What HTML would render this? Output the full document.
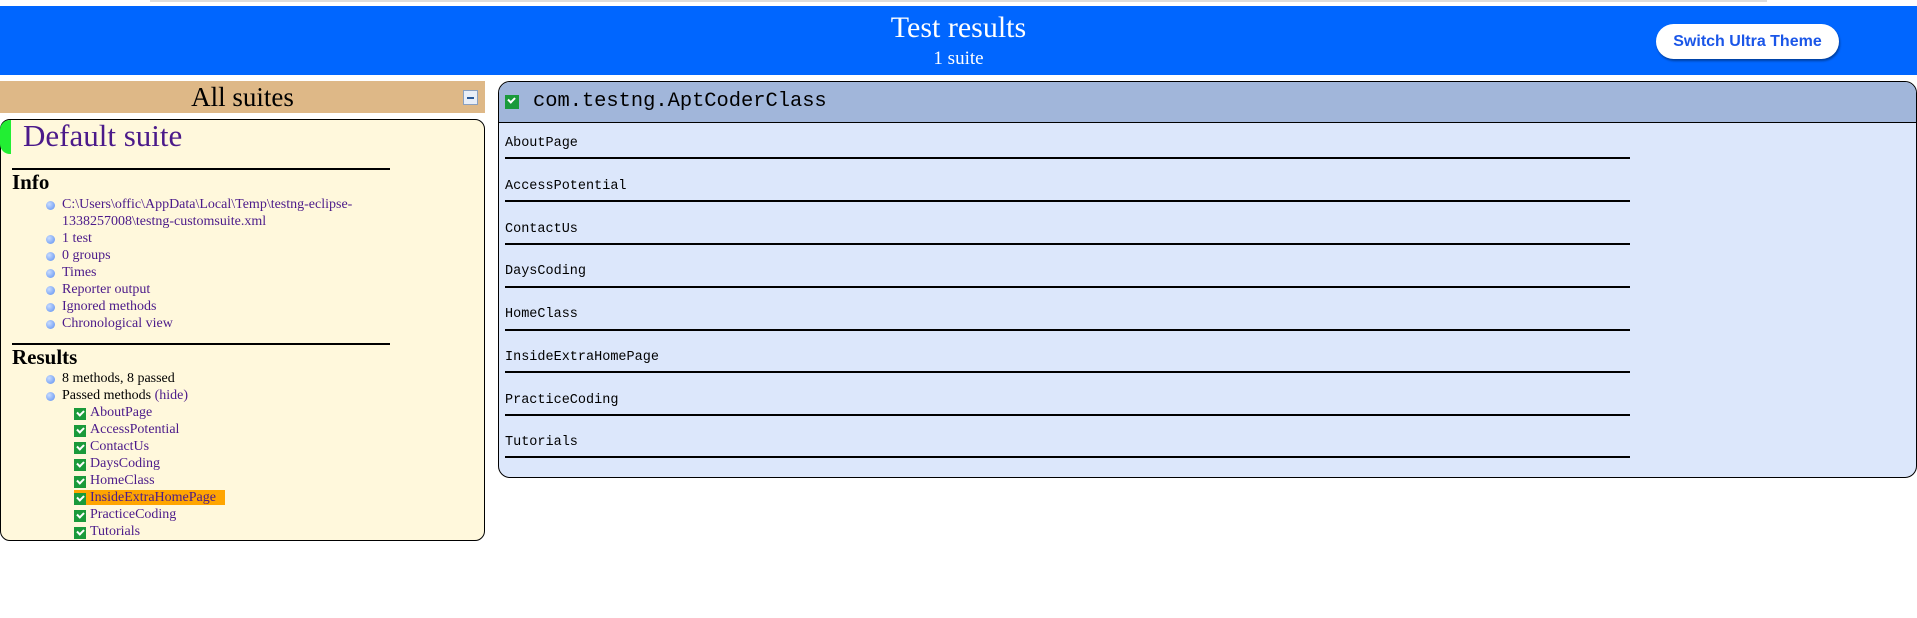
<!DOCTYPE html>
<html><head><meta charset="utf-8"><style>
*{margin:0;padding:0;box-sizing:border-box}
body{width:1917px;height:618px;background:#fff;position:relative;overflow:hidden;font-family:"Liberation Serif",serif}
.a{position:absolute;white-space:nowrap}
.blue{background:#0066ff;left:0;top:6px;width:1917px;height:69px}
.btn{left:1656px;top:24px;width:183px;height:35px;background:#fff;border-radius:18px;box-shadow:1px 2px 2px #0040a0;font:bold 16px "Liberation Sans",sans-serif;color:#1a56e8;text-align:center;line-height:35px}
.lnk{color:#4b1a8a;font-size:14px}
.bul{position:absolute;width:9px;height:9px;border-radius:50%;background:radial-gradient(circle at 35% 35%,#c8dcff,#5b8ef0)}
.chk{position:absolute;width:12px;height:12px;background:#1a9a3a}
.chk:after{content:"";position:absolute;left:3px;top:2px;width:5px;height:3px;border-left:2px solid #fff;border-bottom:2px solid #fff;transform:rotate(-45deg)}
.mono{font-family:"Liberation Mono","DejaVu Sans Mono",monospace}
.row{left:505px;font-size:13.5px;color:#000}
.sep{left:505px;width:1125px;height:1.5px;background:#000}
</style></head><body>
<div class="a" style="left:150px;top:0;width:1617px;height:2px;background:#ddd"></div>
<div class="a blue"></div>
<div class="a" style="left:0;width:1917px;top:10px;text-align:center;color:#fff;font-size:30px;line-height:36px">Test results</div>
<div class="a" style="left:0;width:1917px;top:48px;text-align:center;color:#fff;font-size:19px;line-height:22px">1 suite</div>
<div class="a btn">Switch Ultra Theme</div>

<div class="a" style="left:0;top:81px;width:485px;height:32px;background:#deb887;text-align:center;font-size:27px;line-height:32px">All suites</div>
<div class="a" style="left:463px;top:90px;width:15px;height:15px;border:1px solid #8aa0c0;background:#e8eef8"><div style="position:absolute;left:3px;top:6px;width:7px;height:2px;background:#2a5a9a"></div></div>

<div class="a" style="left:0;top:119px;width:485px;height:422px;background:#fff8dc;border:1px solid #000;border-radius:10px"></div>
<div class="a" style="left:0;top:120px;width:11px;height:34px;background:#22ee33;border-radius:10px 0 0 10px"></div>
<div class="a" style="left:23px;top:118px;font-size:31px;line-height:36px;color:#4b1a8a">Default suite</div>
<div class="a" style="left:12px;top:168px;width:378px;height:1.5px;background:#000"></div>
<div class="a" style="left:12px;top:170px;font-size:21px;font-weight:bold;line-height:24px">Info</div>
<div class="bul" style="left:46px;top:201px"></div><div class="a lnk" style="left:62px;top:196px;line-height:17px">C:\Users\offic\AppData\Local\Temp\testng-eclipse-<br>1338257008\testng-customsuite.xml</div>
<div class="bul" style="left:46px;top:235px"></div><div class="a lnk" style="left:62px;top:230px;line-height:17px">1 test</div>
<div class="bul" style="left:46px;top:252px"></div><div class="a lnk" style="left:62px;top:247px;line-height:17px">0 groups</div>
<div class="bul" style="left:46px;top:269px"></div><div class="a lnk" style="left:62px;top:264px;line-height:17px">Times</div>
<div class="bul" style="left:46px;top:286px"></div><div class="a lnk" style="left:62px;top:281px;line-height:17px">Reporter output</div>
<div class="bul" style="left:46px;top:303px"></div><div class="a lnk" style="left:62px;top:298px;line-height:17px">Ignored methods</div>
<div class="bul" style="left:46px;top:320px"></div><div class="a lnk" style="left:62px;top:315px;line-height:17px">Chronological view</div>
<div class="a" style="left:12px;top:343px;width:378px;height:1.5px;background:#000"></div>
<div class="a" style="left:12px;top:345px;font-size:21px;font-weight:bold;line-height:24px">Results</div>
<div class="bul" style="left:46px;top:375px"></div><div class="a lnk" style="left:62px;top:370px;line-height:17px;color:#000">8 methods, 8 passed</div>
<div class="bul" style="left:46px;top:392px"></div><div class="a lnk" style="left:62px;top:387px;line-height:17px;color:#000">Passed methods <span style="color:#4b1a8a">(hide)</span></div>
<div class="a" style="left:74px;top:490px;width:151px;height:15px;background:#ffa500"></div>
<div class="chk" style="left:74px;top:408px"></div><div class="a lnk" style="left:90px;top:404px;line-height:17px">AboutPage</div>
<div class="chk" style="left:74px;top:425px"></div><div class="a lnk" style="left:90px;top:421px;line-height:17px">AccessPotential</div>
<div class="chk" style="left:74px;top:442px"></div><div class="a lnk" style="left:90px;top:438px;line-height:17px">ContactUs</div>
<div class="chk" style="left:74px;top:459px"></div><div class="a lnk" style="left:90px;top:455px;line-height:17px">DaysCoding</div>
<div class="chk" style="left:74px;top:476px"></div><div class="a lnk" style="left:90px;top:472px;line-height:17px">HomeClass</div>
<div class="chk" style="left:74px;top:493px"></div><div class="a lnk" style="left:90px;top:489px;line-height:17px">InsideExtraHomePage</div>
<div class="chk" style="left:74px;top:510px"></div><div class="a lnk" style="left:90px;top:506px;line-height:17px">PracticeCoding</div>
<div class="chk" style="left:74px;top:527px"></div><div class="a lnk" style="left:90px;top:523px;line-height:17px">Tutorials</div>

<div class="a" style="left:498px;top:81px;width:1419px;height:397px;background:#dce7fb;border:1px solid #000;border-radius:12px;overflow:hidden">
<div style="height:41px;background:#a1b6da;border-bottom:1.5px solid #000"></div></div>
<div class="chk" style="left:505px;top:95px;width:14px;height:14px"></div>
<div class="a mono" style="left:533px;top:89px;font-size:20.4px;line-height:26px">com.testng.AptCoderClass</div>
<div class="a mono row" style="top:136px">AboutPage</div><div class="a sep" style="top:157px"></div>
<div class="a mono row" style="top:179px">AccessPotential</div><div class="a sep" style="top:200px"></div>
<div class="a mono row" style="top:222px">ContactUs</div><div class="a sep" style="top:243px"></div>
<div class="a mono row" style="top:264px">DaysCoding</div><div class="a sep" style="top:286px"></div>
<div class="a mono row" style="top:307px">HomeClass</div><div class="a sep" style="top:329px"></div>
<div class="a mono row" style="top:350px">InsideExtraHomePage</div><div class="a sep" style="top:371px"></div>
<div class="a mono row" style="top:393px">PracticeCoding</div><div class="a sep" style="top:414px"></div>
<div class="a mono row" style="top:435px">Tutorials</div><div class="a sep" style="top:456px"></div>
</body></html>
